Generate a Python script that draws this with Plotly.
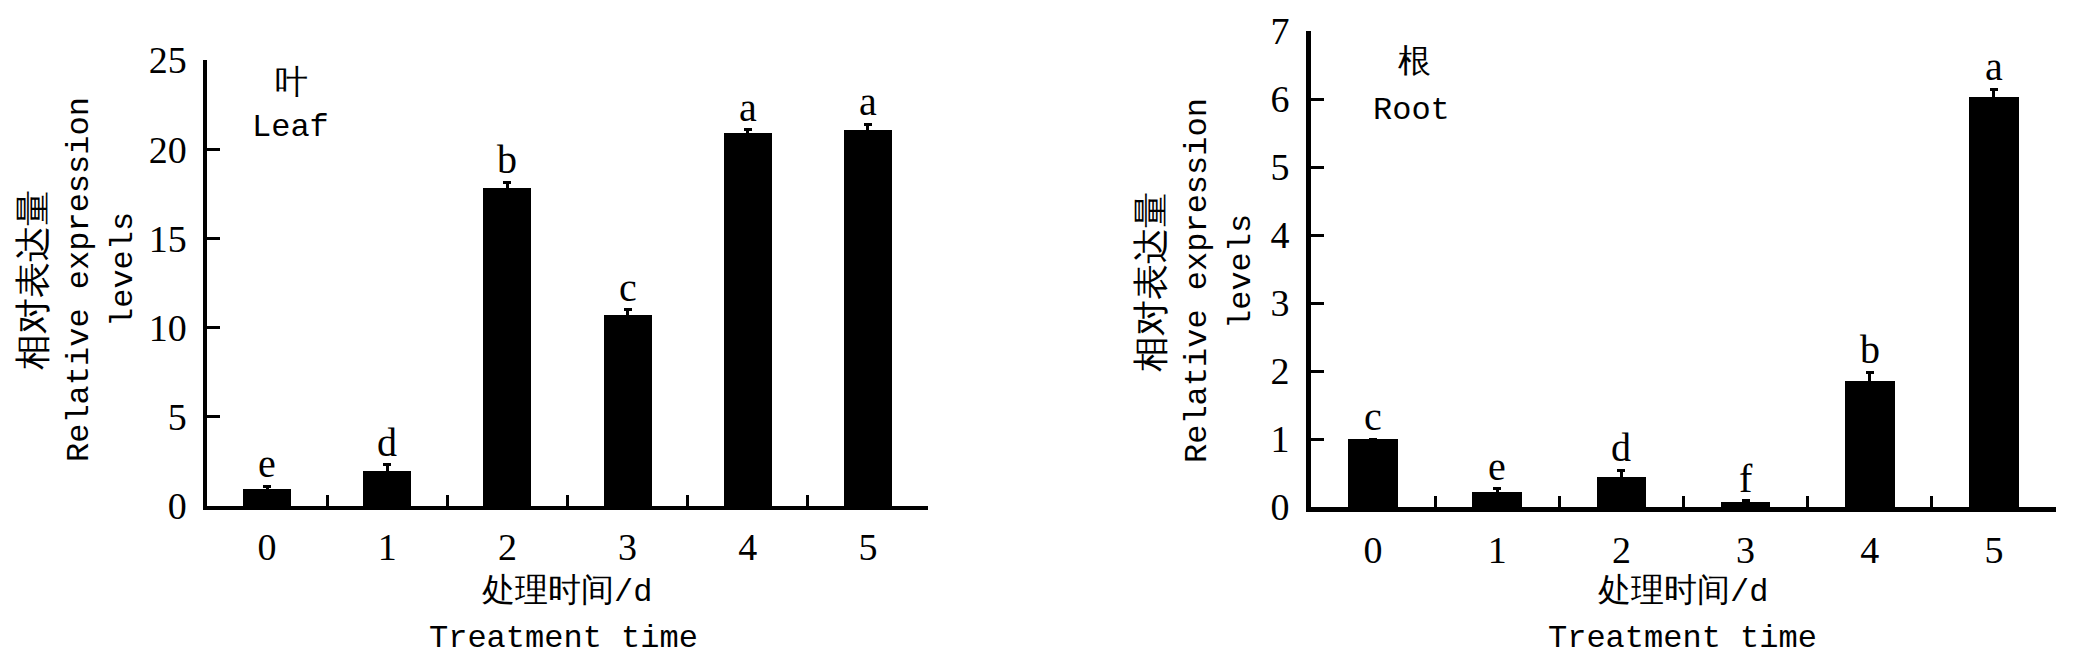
import plotly.graph_objects as go

W, H = 2086, 664
PAGE_OFFSET = 8  # the page body margin moves the figure by this many pixels

days = ["0", "1", "2", "3", "4", "5"]

leaf_values = [0.95, 1.95, 17.85, 10.7, 20.9, 21.1]
leaf_errors = [0.17, 0.35, 0.3, 0.3, 0.2, 0.3]
leaf_letters = ["e", "d", "b", "c", "a", "a"]

root_values = [1.0, 0.22, 0.44, 0.08, 1.86, 6.03]
root_errors = [0.0, 0.05, 0.1, 0.01, 0.12, 0.11]
root_letters = ["c", "e", "d", "f", "b", "a"]

SERIF = "Liberation Serif"
MONO = "Liberation Mono"


def px_x(p):
    return (p - PAGE_OFFSET) / W


def px_y(p):
    return 1 - (p - PAGE_OFFSET) / H


def bar_trace(values, errors, xaxis, yaxis):
    return go.Bar(
        x=days,
        y=values,
        width=0.4,
        marker_color="black",
        marker_line_width=0,
        error_y=dict(type="data", array=errors, color="black", thickness=3, width=4),
        xaxis=xaxis,
        yaxis=yaxis,
        showlegend=False,
    )


fig = go.Figure(data=[
    bar_trace(leaf_values, leaf_errors, "x", "y"),
    bar_trace(root_values, root_errors, "x2", "y2"),
])

xaxis_style = dict(
    type="category",
    range=[-0.5, 5.5],
    automargin=False,
    showline=True,
    linecolor="black",
    ticks="inside",
    tickson="boundaries",
    ticklen=11,
    tickwidth=3,
    tickcolor="black",
    showgrid=False,
    zeroline=False,
    tickfont=dict(family=SERIF, size=38, color="black"),
    ticklabelstandoff=5,
)
yaxis_style = dict(
    automargin=False,
    showline=True,
    linecolor="black",
    ticks="inside",
    ticklen=13,
    tickwidth=3,
    tickcolor="black",
    showgrid=False,
    zeroline=False,
    tickfont=dict(family=SERIF, size=38, color="black"),
    ticklabelstandoff=9,
)

fig.update_layout(
    width=W,
    height=H,
    margin=dict(l=0, r=0, t=0, b=0, pad=0),
    plot_bgcolor="white",
    paper_bgcolor="white",
    bargap=0,
    xaxis=dict(xaxis_style, domain=[px_x(207), px_x(928)], anchor="y", linewidth=3.5),
    yaxis=dict(yaxis_style, domain=[px_y(506), px_y(60)], anchor="x",
               range=[0, 25], dtick=5, linewidth=3.5),
    xaxis2=dict(xaxis_style, domain=[px_x(1311), px_x(2056)], anchor="y2", linewidth=5),
    yaxis2=dict(yaxis_style, domain=[px_y(507), px_y(31)], anchor="x2",
                range=[0, 7], dtick=1, linewidth=5),
)

annotations = []

# significance letters above the error bars
for xref, yref, values, errors, letters in [
    ("x", "y", leaf_values, leaf_errors, leaf_letters),
    ("x2", "y2", root_values, root_errors, root_letters),
]:
    for d, v, e, t in zip(days, values, errors, letters):
        annotations.append(dict(
            x=d, y=v + e, xref=xref, yref=yref, text=t, showarrow=False,
            yanchor="bottom", yshift=-2,
            font=dict(family=SERIF, size=40, color="black"),
        ))

# axis titles and organ labels, one line each, placed by page pixel
text_lines = [
    (35, 280, "相对表达量", 36, -90),
    (79, 280, "Relative expression", 32, -90),
    (123, 270, "levels", 32, -90),
    (1153, 282, "相对表达量", 36, -90),
    (1197, 281, "Relative expression", 32, -90),
    (1241, 272, "levels", 32, -90),
    (567, 592, '<span style="font-size:33px">处理时间</span>/d', 32, 0),
    (563, 638, "Treatment time", 32, 0),
    (1683, 592, '<span style="font-size:33px">处理时间</span>/d', 32, 0),
    (1682, 638, "Treatment time", 32, 0),
    (291, 84, "叶", 33, 0),
    (290, 127, "Leaf", 32, 0),
    (1414, 64, "根", 33, 0),
    (1411, 110, "Root", 32, 0),
]
for x, y, text, size, angle in text_lines:
    annotations.append(dict(
        x=px_x(x), y=px_y(y), xref="paper", yref="paper", text=text,
        showarrow=False, textangle=angle, xanchor="center", yanchor="middle",
        font=dict(family=MONO, size=size, color="black"),
    ))

fig.update_layout(annotations=annotations)

fig.write_html("out.html")
